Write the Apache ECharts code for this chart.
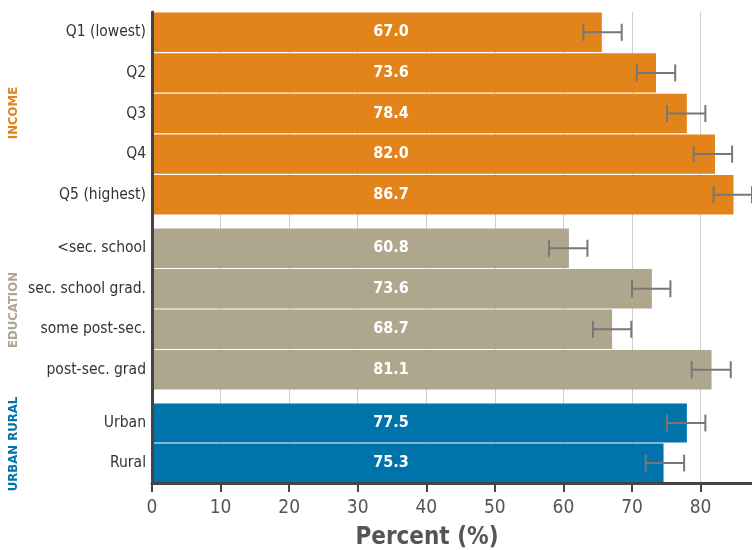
<!DOCTYPE html>
<html>
<head>
<meta charset="utf-8">
<script src="https://cdn.jsdelivr.net/npm/echarts@6/dist/echarts.min.js"></script>
<style>
  html, body { margin: 0; padding: 0; background: #fff; }
  #chart { width: 752px; height: 550px; }
</style>
</head>
<body>
<div id="chart"></div>
<script>
// income group
var incomeCats = ['Q1 (lowest)', 'Q2', 'Q3', 'Q4', 'Q5 (highest)'];
var incomeBar = [65.6, 73.5, 78.0, 82.1, 84.8];
var incomeLabel = ['67.0', '73.6', '78.4', '82.0', '86.7'];
var incomeLow = [62.9, 70.7, 75.1, 79.0, 81.9];
var incomeHigh = [68.5, 76.3, 80.7, 84.6, 87.5];

// education group
var eduCats = ['<sec. school', 'sec. school grad.', 'some post-sec.', 'post-sec. grad'];
var eduBar = [60.8, 72.9, 67.1, 81.6];
var eduLabel = ['60.8', '73.6', '68.7', '81.1'];
var eduLow = [57.9, 70.0, 64.3, 78.7];
var eduHigh = [63.5, 75.6, 69.9, 84.4];

// urban / rural group
var urbanCats = ['Urban', 'Rural'];
var urbanBar = [78.0, 74.6];
var urbanLabel = ['77.5', '75.3'];
var urbanLow = [75.1, 72.0];
var urbanHigh = [80.7, 77.6];

var xTicks = [0, 10, 20, 30, 40, 50, 60, 70, 80];

var groups = [
  { name: 'INCOME', color: '#e2841a', cats: incomeCats, bar: incomeBar, label: incomeLabel, low: incomeLow, high: incomeHigh },
  { name: 'EDUCATION', color: '#afa68e', cats: eduCats, bar: eduBar, label: eduLabel, low: eduLow, high: eduHigh },
  { name: 'URBAN RURAL', color: '#0073ab', cats: urbanCats, bar: urbanBar, label: urbanLabel, low: urbanLow, high: urbanHigh }
];

var font = '"DejaVu Sans Condensed", "DejaVu Sans", sans-serif';
var narrow = '"Liberation Sans Narrow", "DejaVu Sans Condensed", sans-serif';
var xMax = 87.5;

// grid 0 is the background (gridlines + axes), 1..3 hold the groups
var grids = [
  { left: 152, right: 0, top: 12, bottom: 67, outerBoundsMode: 'none' },
  { left: 152, right: 0, top: 12, height: 203, outerBoundsMode: 'none' },
  { left: 152, right: 0, top: 228, height: 162, outerBoundsMode: 'none' },
  { left: 152, right: 0, top: 403, height: 80, outerBoundsMode: 'none' }
];

var xAxes = [
  // gridlines, behind the bars
  {
    gridIndex: 0, type: 'value', min: 0, max: xMax, interval: 10, position: 'bottom',
    axisLine: { show: false }, axisTick: { show: false }, axisLabel: { show: false },
    splitLine: { show: true, lineStyle: { color: '#cfcfcf', width: 1 } },
    z: 0
  },
  // axis line, ticks, labels, on top
  {
    gridIndex: 0, type: 'value', min: 0, max: xMax, interval: 10, position: 'bottom',
    name: 'Percent (%)', nameLocation: 'middle', nameGap: 43,
    nameTextStyle: { fontFamily: font, fontSize: 24, fontWeight: 'bold', color: '#555', padding: [0, 50, 0, 0] },
    axisLine: { show: true, lineStyle: { color: '#444', width: 3 } },
    axisTick: { show: true, length: 9, lineStyle: { color: '#444', width: 2 }, customValues: xTicks },
    axisLabel: { fontFamily: font, fontSize: 19, color: '#555', margin: 16, customValues: xTicks },
    splitLine: { show: false },
    z: 20
  }
];
var yAxes = [{
  gridIndex: 0, type: 'category', data: [''],
  axisLine: { show: true, lineStyle: { color: '#444', width: 3 } },
  axisTick: { show: false }, axisLabel: { show: false }, splitLine: { show: false },
  z: 20
}];
var series = [];

groups.forEach(function (g, i) {
  var gi = i + 1;
  xAxes.push({
    gridIndex: gi, type: 'value', min: 0, max: xMax, show: false,
    splitLine: { show: false }
  });
  yAxes.push({
    gridIndex: gi, type: 'category', data: g.cats, inverse: true,
    axisLine: { show: false }, axisTick: { show: false }, splitLine: { show: false },
    axisLabel: { fontFamily: font, fontSize: 15.5, color: '#333', margin: 6 }
  });
  series.push({
    type: 'bar', xAxisIndex: gi + 1, yAxisIndex: gi,
    data: g.bar, barCategoryGap: '3%',
    itemStyle: { color: g.color },
    label: {
      show: true, position: [239, '50%'], align: 'center', verticalAlign: 'middle',
      fontFamily: narrow, fontWeight: 'bold', fontSize: 16, color: '#fff',
      formatter: function (p) { return g.label[p.dataIndex]; }
    },
    z: 10
  });
  series.push({
    type: 'custom', xAxisIndex: gi + 1, yAxisIndex: gi,
    data: g.low.map(function (v, k) { return [v, g.high[k], k]; }),
    encode: { x: [0, 1], y: 2 },
    clip: false,
    renderItem: function (params, api) {
      var a = api.coord([api.value(0), api.value(2)]);
      var b = api.coord([api.value(1), api.value(2)]);
      var h = api.size([0, 1])[1] * 0.21;
      var st = { stroke: '#777', lineWidth: 2 };
      return {
        type: 'group',
        children: [
          { type: 'line', shape: { x1: a[0], y1: a[1], x2: b[0], y2: b[1] }, style: st },
          { type: 'line', shape: { x1: a[0], y1: a[1] - h, x2: a[0], y2: a[1] + h }, style: st },
          { type: 'line', shape: { x1: b[0], y1: b[1] - h, x2: b[0], y2: b[1] + h }, style: st }
        ]
      };
    },
    z: 12
  });
});

// rotated group titles
var groupTitleY = [113, 310, 444];
var graphics = groups.map(function (g, i) {
  return {
    type: 'text', x: 14, y: groupTitleY[i], rotation: Math.PI / 2,
    style: { text: g.name, fill: g.color, fontFamily: font, fontWeight: 'bold', fontSize: 13,
      align: 'center', verticalAlign: 'middle' }
  };
});

var chart = echarts.init(document.getElementById('chart'));
chart.setOption({
  animation: false,
  grid: grids,
  xAxis: xAxes,
  yAxis: yAxes,
  series: series,
  graphic: graphics
});
</script>
</body>
</html>
